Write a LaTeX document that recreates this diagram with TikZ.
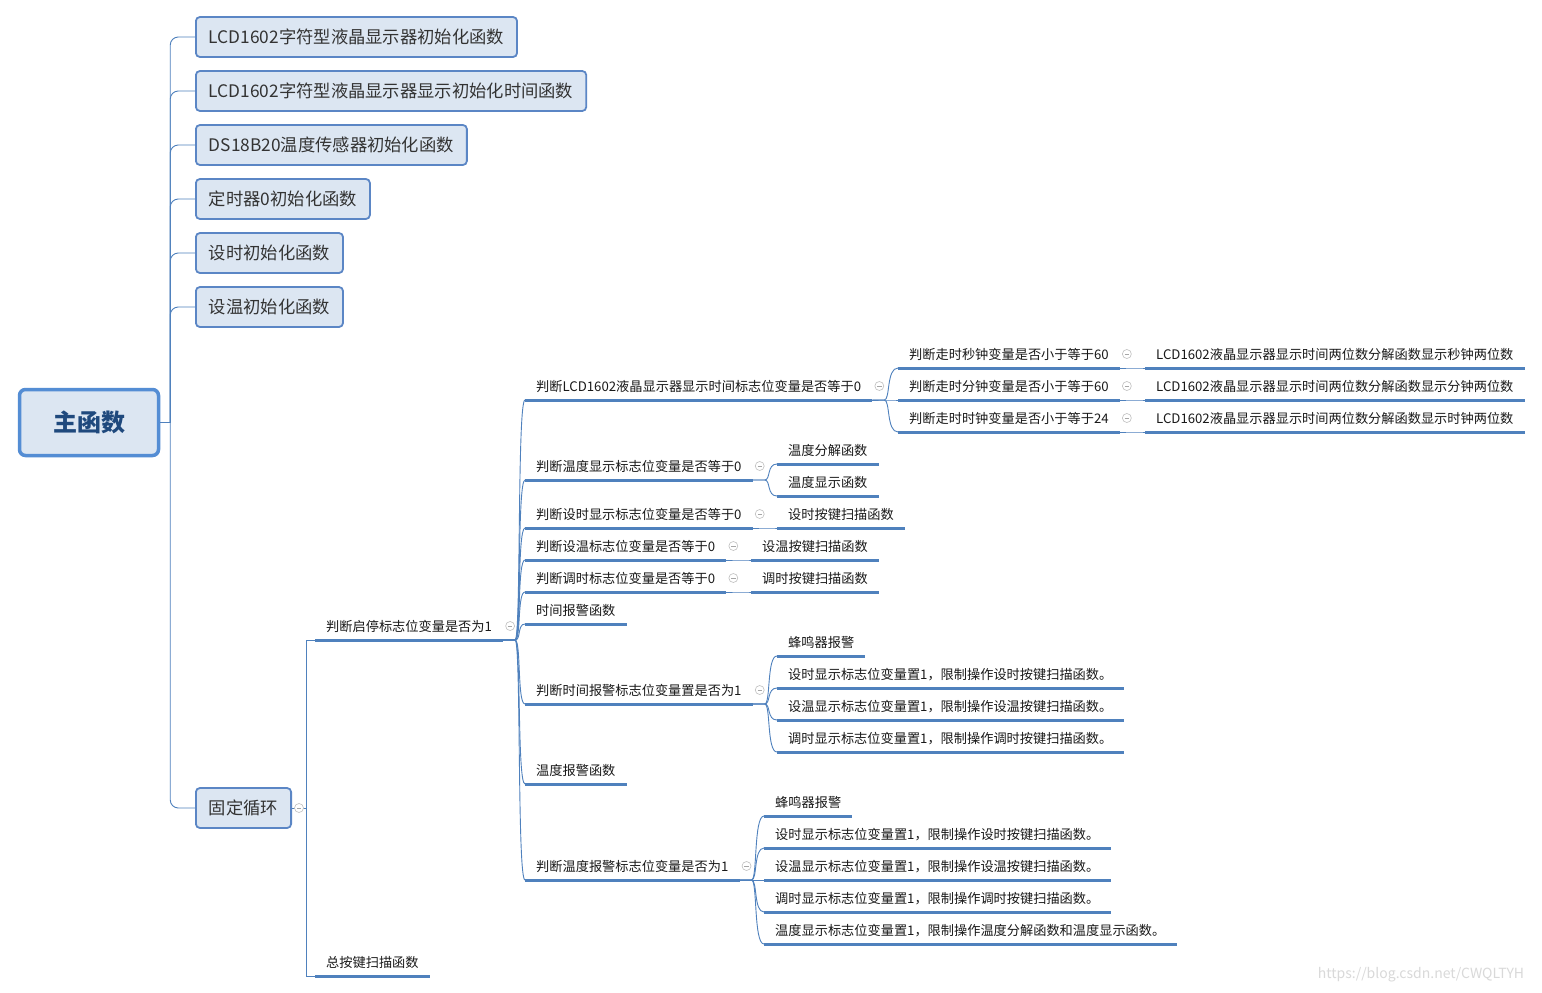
\documentclass[tikz,border=0pt]{standalone}
\usepackage{fontspec}
\setmainfont{Noto Sans CJK SC}
\usetikzlibrary{calc}

\definecolor{boxfill}{RGB}{220,230,242}
\definecolor{boxline}{RGB}{91,134,197}
\definecolor{rootline}{RGB}{84,141,212}
\definecolor{rootink}{RGB}{31,73,125}
\definecolor{linkblue}{RGB}{79,129,189}

\tikzset{
  rootbox/.style={draw=rootline, line width=3.5pt, fill=boxfill, rounded corners=6pt, minimum width=139pt, minimum height=66pt, text=rootink, font=\fontsize{24}{28}\selectfont\bfseries},
  subbox/.style={anchor=west, draw=boxline, line width=1.8pt, fill=boxfill, rounded corners=4pt, inner xsep=13pt, minimum height=40pt, text=black!80, font=\fontsize{17.3}{20}\selectfont},
  topic/.style={anchor=south west, inner xsep=11pt, inner ysep=5pt, text height=9pt, text depth=3pt, text=black!90, font=\fontsize{13.2}{15}\selectfont},
  uline/.style={draw=linkblue, line width=3pt},
  link/.style={draw=linkblue, line width=0.9pt},
  fold/.style={circle, draw=black!25, fill=white, line width=0.6pt, inner sep=0pt, minimum size=9pt,
    path picture={\draw[black!35, line width=0.6pt] ([xshift=-2.2pt]path picture bounding box.center) -- ([xshift=2.2pt]path picture bounding box.center);}},
}

% curved branch from the end of one underline to the start of the next
\newcommand{\branch}[2]{\draw[link] (#1.south east) -- ++(12,0) .. controls ++(6,0) and ($(#1.south east|-#2.south west)+(14,0)$) .. (#2.south west);}

\begin{document}
\begin{tikzpicture}[x=1pt,y=-1pt]
\useasboundingbox (0,0) rectangle (1542,993);
\fill[white] (0,0) rectangle (1542,993);

% root and first level
\node[rootbox] (root) at (89,422.5) {主函数};
\node[subbox] (b1) at (195,37) {LCD1602字符型液晶显示器初始化函数};
\node[subbox] (b2) at (195,91) {LCD1602字符型液晶显示器显示初始化时间函数};
\node[subbox] (b3) at (195,145) {DS18B20温度传感器初始化函数};
\node[subbox] (b4) at (195,199) {定时器0初始化函数};
\node[subbox] (b5) at (195,253) {设时初始化函数};
\node[subbox] (b6) at (195,307) {设温初始化函数};
\node[subbox] (loop) at (195,808) {固定循环};

\draw[link] (root.east) -- ++(10,0);
\foreach \b in {b1,b2,b3,b4,b5,b6,loop}
  \draw[link, rounded corners=8pt] ($(root.east)+(10,0)$) |- (\b.west);

% second level
\node[topic] (run) at (315,640) {判断启停标志位变量是否为1};
\node[topic] (scan) at (315,976) {总按键扫描函数};
\draw[link] (loop.east) -- ++(14,0) |- (run.south west);
\draw[link] (loop.east) -- ++(14,0) |- (scan.south west);

% third level
\node[topic] (lcd) at (525,400) {判断LCD1602液晶显示器显示时间标志位变量是否等于0};
\node[topic] (tshow) at (525,480) {判断温度显示标志位变量是否等于0};
\node[topic] (setshow) at (525,528) {判断设时显示标志位变量是否等于0};
\node[topic] (settemp) at (525,560) {判断设温标志位变量是否等于0};
\node[topic] (adjust) at (525,592) {判断调时标志位变量是否等于0};
\node[topic] (talarm) at (525,624) {时间报警函数};
\node[topic] (talarmq) at (525,704) {判断时间报警标志位变量置是否为1};
\node[topic] (galarm) at (525,784) {温度报警函数};
\node[topic] (galarmq) at (525,880) {判断温度报警标志位变量是否为1};

% fourth level
\node[topic] (sec) at (898,368) {判断走时秒钟变量是否小于等于60};
\node[topic] (min) at (898,400) {判断走时分钟变量是否小于等于60};
\node[topic] (hour) at (898,432) {判断走时时钟变量是否小于等于24};
\node[topic] (tsplit) at (777,464) {温度分解函数};
\node[topic] (tdisp) at (777,496) {温度显示函数};
\node[topic] (setkey) at (777,528) {设时按键扫描函数};
\node[topic] (tempkey) at (751,560) {设温按键扫描函数};
\node[topic] (adjkey) at (751,592) {调时按键扫描函数};
\node[topic] (beepa) at (777,656) {蜂鸣器报警};
\node[topic] (locka1) at (777,688) {设时显示标志位变量置1，限制操作设时按键扫描函数。};
\node[topic] (locka2) at (777,720) {设温显示标志位变量置1，限制操作设温按键扫描函数。};
\node[topic] (locka3) at (777,752) {调时显示标志位变量置1，限制操作调时按键扫描函数。};
\node[topic] (beepb) at (764,816) {蜂鸣器报警};
\node[topic] (lockb1) at (764,848) {设时显示标志位变量置1，限制操作设时按键扫描函数。};
\node[topic] (lockb2) at (764,880) {设温显示标志位变量置1，限制操作设温按键扫描函数。};
\node[topic] (lockb3) at (764,912) {调时显示标志位变量置1，限制操作调时按键扫描函数。};
\node[topic] (lockb4) at (764,944) {温度显示标志位变量置1，限制操作温度分解函数和温度显示函数。};

% fifth level
\node[topic] (secd) at (1145,368) {LCD1602液晶显示器显示时间两位数分解函数显示秒钟两位数};
\node[topic] (mind) at (1145,400) {LCD1602液晶显示器显示时间两位数分解函数显示分钟两位数};
\node[topic] (hourd) at (1145,432) {LCD1602液晶显示器显示时间两位数分解函数显示时钟两位数};

% underlines
\foreach \n in {run,scan,lcd,tshow,setshow,settemp,adjust,talarm,talarmq,galarm,galarmq,
  sec,min,hour,tsplit,tdisp,setkey,tempkey,adjkey,beepa,locka1,locka2,locka3,
  beepb,lockb1,lockb2,lockb3,lockb4,secd,mind,hourd}
  \draw[uline] (\n.south west) -- (\n.south east);

% branches
\foreach \c in {lcd,tshow,setshow,settemp,adjust,talarm,talarmq,galarm,galarmq}
  {\branch{run}{\c}}
\foreach \c in {sec,min,hour} {\branch{lcd}{\c}}
\branch{tshow}{tsplit}
\branch{tshow}{tdisp}
\branch{setshow}{setkey}
\branch{settemp}{tempkey}
\branch{adjust}{adjkey}
\foreach \c in {beepa,locka1,locka2,locka3} {\branch{talarmq}{\c}}
\foreach \c in {beepb,lockb1,lockb2,lockb3,lockb4} {\branch{galarmq}{\c}}
\branch{sec}{secd}
\branch{min}{mind}
\branch{hour}{hourd}

% collapse markers
\node[fold] (f-loop) at ($(loop.east)+(7,0)$) {};
\foreach \n in {run,lcd,tshow,setshow,settemp,adjust,talarmq,galarmq,sec,min,hour}
  \node[fold] (f-\n) at ($(\n.south east)+(7,-14)$) {};

\node[text=black!15, font=\fontsize{14}{16}\selectfont] (mark) at (1421,975) {https://blog.csdn.net/CWQLTYH};
\end{tikzpicture}
\end{document}
